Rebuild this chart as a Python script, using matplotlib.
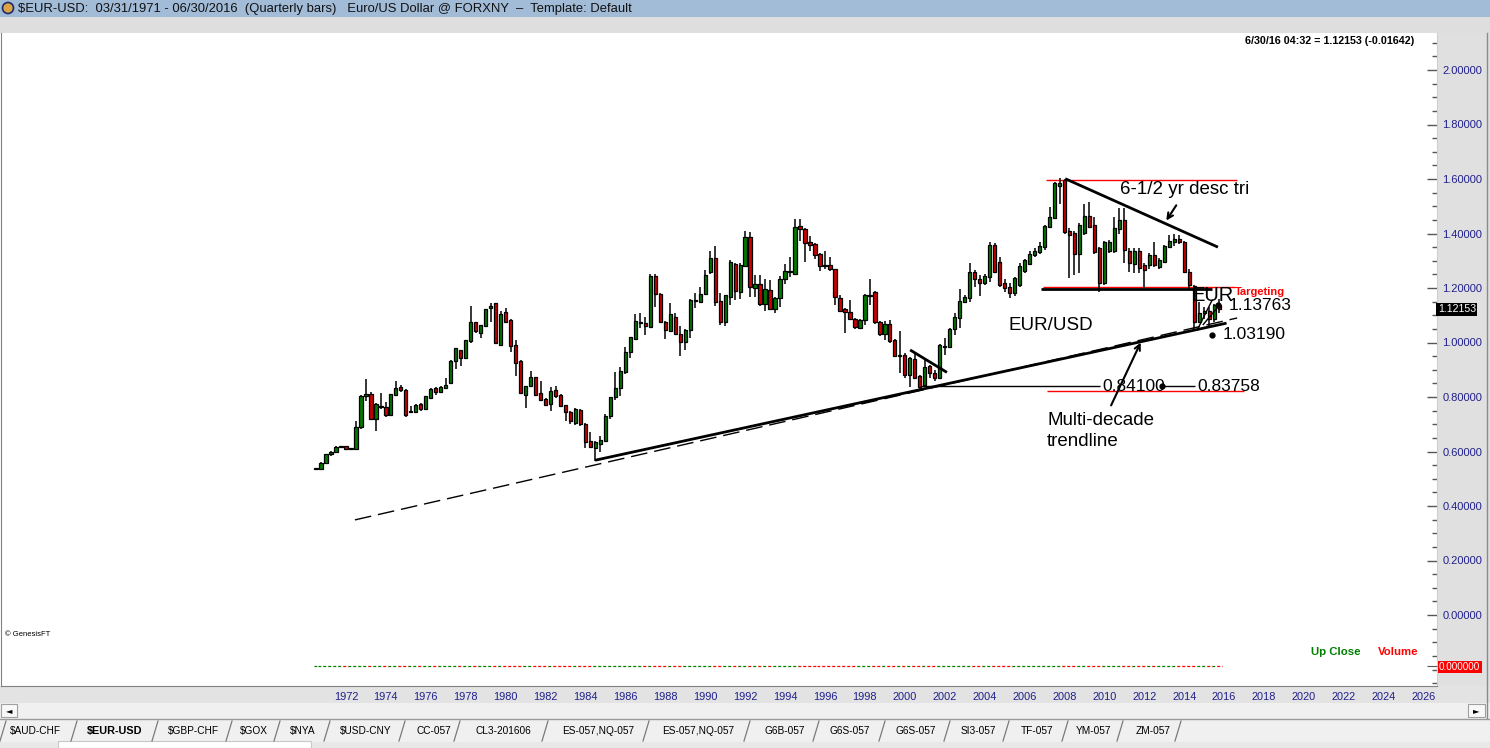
import numpy as np
import matplotlib
matplotlib.use("Agg")
import matplotlib.pyplot as plt
from matplotlib import font_manager
from matplotlib.patches import Rectangle, Circle
from matplotlib.ticker import FixedLocator

# -----------------------------
# Fonts
# -----------------------------
_names = {f.name for f in font_manager.fontManager.ttflist}
HAS_NARROW = "Liberation Sans Narrow" in _names
NARROW = "Liberation Sans Narrow" if HAS_NARROW else "Liberation Sans"
plt.rcParams["font.family"] = ["Liberation Sans", "DejaVu Sans"]


def fs(narrow_size, plain_size):
    # narrow font if present, otherwise plain Liberation Sans at a smaller size
    return narrow_size if HAS_NARROW else plain_size


# -----------------------------
# Quarterly EUR/USD bars, 1971 Q1 .. 2016 Q2
# -----------------------------
opens = [
    0.536, 0.537, 0.557, 0.590, 0.597, 0.616, 0.619, 0.609, 0.609, 0.690,
    0.803, 0.810, 0.720, 0.764, 0.764, 0.735, 0.808, 0.837, 0.826, 0.744,
    0.744, 0.773, 0.757, 0.796, 0.833, 0.817, 0.834, 0.853, 0.933, 0.971,
    0.943, 1.007, 1.074, 1.036, 1.059, 1.126, 1.144, 0.991, 1.111, 1.083,
    0.991, 0.932, 0.808, 0.839, 0.873, 0.814, 0.793, 0.773, 0.825, 0.807,
    0.769, 0.744, 0.705, 0.751, 0.701, 0.639, 0.614, 0.626, 0.640, 0.730,
    0.799, 0.832, 0.893, 0.964, 1.013, 1.072, 1.072, 1.058, 1.244, 1.178,
    1.075, 1.043, 1.092, 1.030, 1.001, 1.045, 1.154, 1.150, 1.179, 1.260,
    1.310, 1.151, 1.076, 1.168, 1.287, 1.187, 1.281, 1.386, 1.201, 1.214,
    1.142, 1.194, 1.122, 1.164, 1.233, 1.258, 1.252, 1.426, 1.415, 1.368,
    1.361, 1.325, 1.284, 1.283, 1.269, 1.164, 1.122, 1.111, 1.085, 1.054,
    1.081, 1.170, 1.184, 1.074, 1.032, 1.068, 1.009, 0.950, 0.954, 0.881,
    0.939, 0.877, 0.844, 0.915, 0.887, 0.869, 0.985, 0.985, 1.048, 1.089,
    1.150, 1.162, 1.259, 1.233, 1.217, 1.242, 1.358, 1.294, 1.217, 1.205,
    1.183, 1.211, 1.262, 1.289, 1.321, 1.331, 1.352, 1.425, 1.458, 1.576,
    1.596, 1.409, 1.401, 1.324, 1.401, 1.464, 1.433, 1.346, 1.217, 1.336,
    1.336, 1.415, 1.450, 1.336, 1.287, 1.336, 1.284, 1.284, 1.321, 1.278,
    1.297, 1.352, 1.368, 1.380, 1.368, 1.260, 1.208, 1.076, 1.110, 1.117,
    1.086, 1.138,
]
highs = [
    0.538, 0.560, 0.592, 0.602, 0.620, 0.621, 0.621, 0.612, 0.712, 0.806,
    0.866, 0.817, 0.778, 0.815, 0.780, 0.812, 0.859, 0.844, 0.828, 0.767,
    0.775, 0.777, 0.805, 0.832, 0.836, 0.840, 0.870, 0.934, 0.981, 0.974,
    1.011, 1.134, 1.076, 1.066, 1.124, 1.144, 1.146, 1.116, 1.126, 1.085,
    1.009, 0.934, 0.841, 0.895, 0.875, 0.860, 0.798, 0.838, 0.840, 0.810,
    0.771, 0.750, 0.759, 0.755, 0.703, 0.672, 0.637, 0.658, 0.738, 0.801,
    0.892, 0.909, 0.983, 1.021, 1.105, 1.108, 1.092, 1.250, 1.252, 1.180,
    1.078, 1.145, 1.110, 1.059, 1.048, 1.160, 1.183, 1.202, 1.267, 1.336,
    1.354, 1.181, 1.176, 1.303, 1.290, 1.290, 1.409, 1.405, 1.248, 1.248,
    1.232, 1.229, 1.167, 1.245, 1.287, 1.315, 1.453, 1.453, 1.420, 1.389,
    1.365, 1.327, 1.335, 1.313, 1.271, 1.176, 1.125, 1.156, 1.090, 1.085,
    1.177, 1.233, 1.190, 1.079, 1.079, 1.083, 1.012, 1.042, 0.960, 0.945,
    0.960, 0.880, 0.942, 0.917, 0.898, 0.996, 1.018, 1.052, 1.107, 1.195,
    1.174, 1.290, 1.266, 1.247, 1.250, 1.368, 1.364, 1.315, 1.232, 1.218,
    1.240, 1.290, 1.305, 1.335, 1.345, 1.370, 1.430, 1.496, 1.590, 1.602,
    1.600, 1.420, 1.410, 1.440, 1.510, 1.515, 1.460, 1.350, 1.372, 1.375,
    1.462, 1.494, 1.494, 1.345, 1.345, 1.345, 1.290, 1.330, 1.370, 1.310,
    1.358, 1.394, 1.398, 1.393, 1.372, 1.270, 1.212, 1.147, 1.130, 1.130,
    1.143, 1.161,
]
lows = [
    0.533, 0.533, 0.555, 0.583, 0.594, 0.612, 0.607, 0.606, 0.607, 0.682,
    0.786, 0.718, 0.676, 0.755, 0.728, 0.733, 0.805, 0.820, 0.728, 0.740,
    0.740, 0.750, 0.755, 0.794, 0.807, 0.815, 0.832, 0.851, 0.904, 0.915,
    0.941, 0.999, 1.036, 1.018, 1.057, 1.076, 0.997, 0.989, 1.074, 0.966,
    0.877, 0.814, 0.758, 0.837, 0.806, 0.787, 0.768, 0.750, 0.798, 0.765,
    0.713, 0.701, 0.696, 0.695, 0.614, 0.616, 0.565, 0.600, 0.638, 0.720,
    0.790, 0.805, 0.885, 0.943, 1.010, 1.055, 1.026, 1.056, 1.132, 1.070,
    1.013, 1.040, 1.028, 0.952, 0.974, 1.018, 1.126, 1.148, 1.177, 1.250,
    1.133, 1.066, 1.059, 1.137, 1.157, 1.160, 1.279, 1.166, 1.166, 1.135,
    1.116, 1.118, 1.107, 1.131, 1.215, 1.240, 1.250, 1.372, 1.297, 1.334,
    1.306, 1.261, 1.270, 1.264, 1.138, 1.112, 1.034, 1.082, 1.050, 1.050,
    1.064, 1.138, 1.068, 1.024, 1.009, 0.997, 0.948, 0.887, 0.869, 0.837,
    0.865, 0.826, 0.840, 0.869, 0.860, 0.865, 0.954, 0.982, 1.028, 1.054,
    1.148, 1.150, 1.205, 1.172, 1.210, 1.221, 1.255, 1.205, 1.187, 1.162,
    1.170, 1.205, 1.255, 1.285, 1.315, 1.325, 1.340, 1.420, 1.455, 1.510,
    1.398, 1.235, 1.248, 1.255, 1.395, 1.420, 1.325, 1.185, 1.210, 1.330,
    1.330, 1.400, 1.290, 1.260, 1.255, 1.255, 1.199, 1.270, 1.278, 1.270,
    1.290, 1.345, 1.355, 1.360, 1.255, 1.195, 1.046, 1.072, 1.085, 1.058,
    1.075, 1.110,
]
closes = [
    0.537, 0.557, 0.590, 0.597, 0.616, 0.619, 0.610, 0.610, 0.690, 0.803,
    0.812, 0.720, 0.774, 0.768, 0.735, 0.810, 0.832, 0.826, 0.734, 0.748,
    0.771, 0.757, 0.803, 0.828, 0.817, 0.837, 0.844, 0.932, 0.979, 0.942,
    1.009, 1.074, 1.043, 1.063, 1.122, 1.134, 0.999, 1.106, 1.076, 0.988,
    0.926, 0.816, 0.839, 0.873, 0.808, 0.789, 0.771, 0.821, 0.803, 0.768,
    0.744, 0.712, 0.756, 0.700, 0.636, 0.618, 0.635, 0.642, 0.730, 0.799,
    0.832, 0.895, 0.965, 1.019, 1.079, 1.076, 1.059, 1.244, 1.177, 1.076,
    1.045, 1.105, 1.030, 1.001, 1.045, 1.156, 1.157, 1.177, 1.248, 1.310,
    1.150, 1.076, 1.174, 1.294, 1.188, 1.283, 1.386, 1.204, 1.215, 1.142,
    1.196, 1.123, 1.164, 1.233, 1.262, 1.262, 1.423, 1.415, 1.366, 1.358,
    1.322, 1.282, 1.282, 1.269, 1.166, 1.117, 1.111, 1.085, 1.058, 1.081,
    1.174, 1.174, 1.074, 1.032, 1.068, 1.007, 0.952, 0.952, 0.881, 0.942,
    0.871, 0.838, 0.909, 0.887, 0.869, 0.991, 0.988, 1.048, 1.092, 1.152,
    1.167, 1.260, 1.233, 1.217, 1.244, 1.358, 1.260, 1.211, 1.201, 1.183,
    1.235, 1.279, 1.303, 1.324, 1.336, 1.354, 1.427, 1.459, 1.587, 1.585,
    1.407, 1.395, 1.324, 1.433, 1.464, 1.425, 1.333, 1.217, 1.368, 1.370,
    1.419, 1.450, 1.339, 1.291, 1.336, 1.272, 1.266, 1.321, 1.284, 1.303,
    1.354, 1.372, 1.380, 1.368, 1.260, 1.211, 1.076, 1.110, 1.117, 1.086,
    1.138, 1.122,
]
volume = [0.0] * len(closes)

# quarter index 0 = 1971 Q1; calendar year y sits at index (y - 1970.5) * 4
year_labels = list(range(1972, 2027, 2))
price_ticks = [0.0, 0.2, 0.4, 0.6, 0.8, 1.0, 1.2, 1.4, 1.6, 1.8, 2.0]
last_price = 1.12153

tab_names = ["$AUD-CHF", "$EUR-USD", "$GBP-CHF", "$GOX", "$NYA", "$USD-CNY",
             "CC-057", "CL3-201606", "ES-057,NQ-057", "ES-057,NQ-057",
             "G6B-057", "G6S-057", "G6S-057", "SI3-057", "TF-057",
             "YM-057", "ZM-057"]
tab_centers = [36, 115, 193, 254, 303, 366, 434, 503, 598, 698,
               785, 850, 916, 978, 1037, 1094, 1153]
tab_edges = [3, 74, 155, 229, 277, 327, 402, 457, 545, 646, 747,
             816, 882, 947, 1006, 1065, 1120, 1178]

# drawn studies (quarter index, price)
trend_solid = ([56.2, 182.2], [0.569, 1.070])
trend_dashed = ([7.8, 184.6], [0.349, 1.090])
desc_tri = ([150.4, 180.5], [1.599, 1.352])
small_tri = ([119.3, 126.2], [0.970, 0.893])

W, H = 1490, 748
fig = plt.figure(figsize=(W / 100, H / 100), dpi=100)

# -----------------------------
# Window chrome (pixel coordinates)
# -----------------------------
bg = fig.add_axes([0, 0, 1, 1])
bg.set_xlim(0, W)
bg.set_ylim(H, 0)
bg.axis("off")


def rect(x0, y0, x1, y1, fc, ec="none", lw=0):
    bg.add_patch(Rectangle((x0, y0), x1 - x0, y1 - y0, fc=fc, ec=ec, lw=lw))


rect(0, 0, W, 17, "#a2bbd7")
rect(0, 17, W, 33, "#dedede")
rect(1437, 33, W, 687, "#e0e0e0")
rect(0, 686, W, 703, "#e3e3e3")
rect(0, 703, W, 718, "#f0f0f0")
rect(1, 704, 17, 717, "#f8f8f8", "#a0a0a0", 0.8)
rect(1468, 704, 1485, 717, "#f8f8f8", "#a0a0a0", 0.8)
bg.text(9, 710.5, "◄", fontsize=6, ha="center", va="center", family="DejaVu Sans")
bg.text(1476, 710.5, "►", fontsize=6, ha="center", va="center", family="DejaVu Sans")
rect(0, 718, W, 742, "#f0f0f0")
bg.plot([0, W], [718.5, 718.5], color="#9a9a9a", lw=1)
rect(0, 742, W, H, "#e8e8e8")
rect(58, 741, 311, H, "#ffffff", "#c8c8c8", 0.8)
bg.plot([1487, 1487], [33, 718], color="#8a8a8a", lw=1)

bg.add_patch(Circle((8, 8), 5.5, fc="#d9a441", ec="#1f2a6b", lw=1.2))
bg.text(18, 8.5, "$EUR-USD:  03/31/1971 - 06/30/2016  (Quarterly bars)   "
        "Euro/US Dollar @ FORXNY  \u2013  Template: Default",
        family=NARROW, fontsize=fs(10, 9.4), va="center", ha="left", color="#111111")

for name, cx in zip(tab_names, tab_centers):
    bold = name == "$EUR-USD"
    bg.text(cx, 731, name, family=NARROW,
            fontsize=fs(9.2, 7.8) if bold else fs(8.6, 7.3),
            fontweight="bold" if bold else "normal", ha="center", va="center",
            color="black")
for ex in tab_edges:
    bg.plot([ex - 3, ex + 3], [741, 721], color="#7a7a7a", lw=0.9)

# -----------------------------
# Price chart
# -----------------------------
px_left, px_right, px_top, px_bot = 1, 1437, 33, 686
ax = fig.add_axes([px_left / W, 1 - px_bot / H, (px_right - px_left) / W,
                   (px_bot - px_top) / H])
ax.set_facecolor("white")

x = np.arange(len(closes))
o = np.array(opens)
h = np.array(highs)
l = np.array(lows)
c = np.array(closes)
up = c >= o

ax.vlines(x, l, h, color="black", lw=1.1, zorder=3)
ax.bar(x, np.maximum(np.abs(c - o), 0.003), bottom=np.minimum(o, c), width=0.66,
       color=np.where(up, "#007a00", "#cc0000"), edgecolor="black",
       linewidth=0.9, zorder=4)

# support / resistance lines
ax.hlines(1.596, 146.3, 184.6, color="#ff0000", lw=1, zorder=2)
ax.hlines(1.205, 145.7, 184.2, color="#ff0000", lw=1, zorder=2)
ax.hlines(1.197, 145.3, 179.6, color="black", lw=2, zorder=5)
ax.hlines(0.823, 146.4, 186.0, color="#ff0000", lw=1, zorder=2)
ax.hlines(0.839, 121.0, 157.1, color="black", lw=1, zorder=2)
ax.hlines(0.839, 169.5, 176.2, color="black", lw=1, zorder=2)

ax.plot(*trend_dashed, color="black", lw=1, dashes=(12, 5), zorder=5)
ax.plot(*trend_solid, color="black", lw=2, zorder=5)
ax.plot(*desc_tri, color="black", lw=2, zorder=5)
ax.plot(*small_tri, color="black", lw=2, zorder=5)
ax.plot([176.6, 179.6], [1.046, 1.156], color="black", lw=1, zorder=5)
ax.plot([177.8, 181.0], [1.066, 1.136], color="black", lw=1, zorder=5)

ax.annotate("", xy=(165.5, 1.009), xytext=(159.1, 0.760),
            arrowprops=dict(arrowstyle="->", lw=1.5, color="black"), zorder=6)
ax.annotate("", xy=(170.1, 1.439), xytext=(172.7, 1.512),
            arrowprops=dict(arrowstyle="->", lw=1.5, color="black"), zorder=6)

ax.text(161.1, 1.560, "6-1/2 yr desc tri", fontsize=13.5, va="center", ha="left")
ax.text(138.7, 1.064, "EUR/USD", fontsize=13.5, va="center", ha="left")
ax.text(146.5, 0.675, "Multi-decade\ntrendline", fontsize=13.5, va="center",
        ha="left", linespacing=1.25)
ax.text(175.4, 1.171, "EUR", fontsize=14.5, va="center", ha="left", zorder=6)
ax.text(184.2, 1.185, "Targeting", fontsize=8, color="#ff0000", va="center",
        ha="left", fontweight="bold")
ax.text(182.8, 1.134, "1.13763", fontsize=12.5, va="center", ha="left")
ax.text(181.6, 1.031, "1.03190", fontsize=12.5, va="center", ha="left")
ax.text(157.5, 0.837, "0.84100", fontsize=12.5, va="center", ha="left")
ax.text(176.6, 0.837, "0.83758", fontsize=12.5, va="center", ha="left")
ax.plot([180.8, 179.6, 169.5], [1.138, 1.028, 0.839], "o", color="black",
        ms=3.5, zorder=7)

ax.text(0.0025, 0.0796, "\u00a9 GenesisFT", transform=ax.transAxes, fontsize=5.5,
        family=NARROW, va="center", ha="left")
ax.text(0.9845, 0.988, "6/30/16 04:32 = 1.12153 (-0.01642)", transform=ax.transAxes,
        fontsize=fs(8.3, 7.75), family=NARROW, fontweight="bold", ha="right",
        va="center")

ax.set_xlim((px_left - 316) / 4.99, (px_right - 316) / 4.99)
ax.set_ylim((615 - px_bot) / 272.5, (615 - px_top) / 272.5)

ax.set_xticks([(yr - 1970.5) * 4 for yr in year_labels])
ax.set_xticklabels([str(yr) for yr in year_labels])
ax.tick_params(axis="x", length=0, pad=4, labelsize=fs(8.6, 7.9),
               labelcolor="#20208c")
for lab in ax.get_xticklabels():
    lab.set_family(NARROW)

ax.yaxis.tick_right()
ax.yaxis.set_major_locator(FixedLocator(price_ticks))
ax.yaxis.set_minor_locator(FixedLocator(np.round(np.arange(-0.25, 2.14, 0.05), 2)))
ax.set_yticklabels([f"{v:.5f}" for v in price_ticks])
ax.tick_params(axis="y", which="major", direction="in", length=7, width=1,
               color="#555555", pad=4, labelsize=fs(8.6, 8.0), labelcolor="#20208c")
ax.tick_params(axis="y", which="minor", direction="in", length=3.5, width=1,
               color="#555555")
for lab in ax.get_yticklabels():
    lab.set_family(NARROW)

ax.spines["top"].set_visible(False)
ax.spines["right"].set_color("#cfcfcf")
ax.spines["left"].set_color("#808080")
ax.spines["bottom"].set_color("#808080")

ax.text(1.0005, (last_price - ax.get_ylim()[0]) / np.diff(ax.get_ylim())[0],
        f"{last_price:.5f}", transform=ax.transAxes, family=NARROW,
        fontsize=fs(8.6, 7.6), color="white", va="center", ha="left",
        bbox=dict(boxstyle="square,pad=0.15", fc="black", ec="none"))

# -----------------------------
# Volume panel (no volume for spot FX)
# -----------------------------
vax = fig.add_axes([px_left / W, 1 - px_bot / H, (px_right - px_left) / W, 40 / H],
                   sharex=ax)
vax.set_facecolor("none")
vax.set_ylim(-1, 1)
for i, v in enumerate(volume):
    vax.plot([i - 0.5, i + 0.5], [v, v], color="#008000" if up[i] else "#ff0000",
             lw=0.9, dashes=(2.2, 1.4))
vax.yaxis.tick_right()
vax.set_yticks([0])
vax.set_yticklabels(["0.000000"])
vax.tick_params(axis="y", direction="in", length=7, color="#555555", pad=1.5,
                labelsize=fs(8.2, 7.1), labelcolor="white")
for lab in vax.get_yticklabels():
    lab.set_family(NARROW)
    lab.set_bbox(dict(boxstyle="square,pad=0.12", fc="#ff0000", ec="none"))
vax.tick_params(axis="x", length=0, labelbottom=False)
for s in vax.spines.values():
    s.set_visible(False)
vax.text(0.947, 0.85, "Up Close", transform=vax.transAxes, color="#008000",
         family=NARROW, fontsize=fs(9, 8.2), fontweight="bold", ha="right",
         va="center")
vax.text(0.987, 0.85, "Volume", transform=vax.transAxes, color="#ff0000",
         family=NARROW, fontsize=fs(9, 8.2), fontweight="bold", ha="right",
         va="center")

fig.savefig("out.png", dpi=100)
